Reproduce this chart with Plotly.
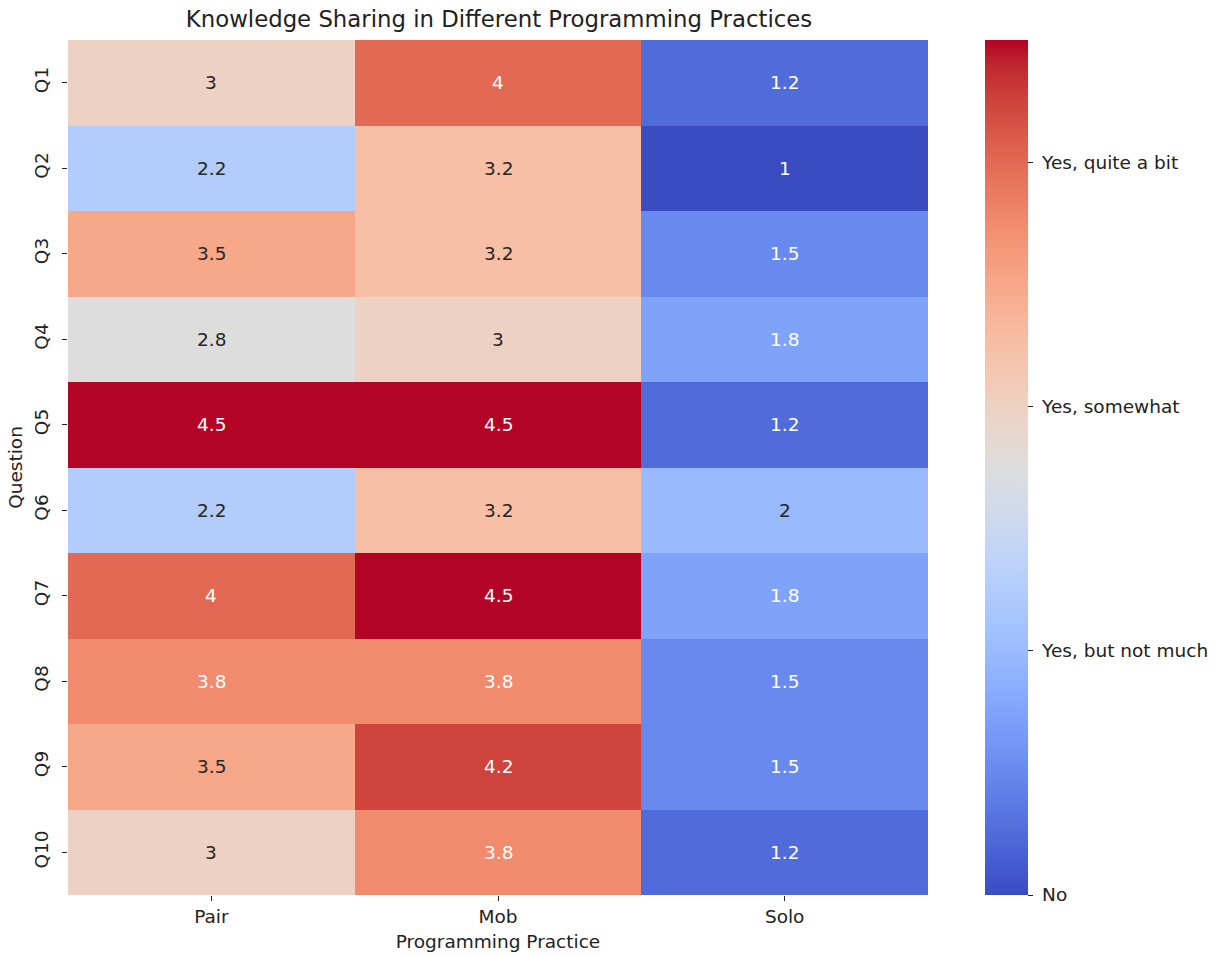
import numpy as np
import plotly.graph_objects as go

# Survey scores per question and programming practice
questions = ["Q1", "Q2", "Q3", "Q4", "Q5", "Q6", "Q7", "Q8", "Q9", "Q10"]
practices = ["Pair", "Mob", "Solo"]
pair_scores = [3.0, 2.25, 3.5, 2.75, 4.5, 2.25, 4.0, 3.75, 3.5, 3.0]
mob_scores = [4.0, 3.25, 3.25, 3.0, 4.5, 3.25, 4.5, 3.75, 4.25, 3.75]
solo_scores = [1.25, 1.0, 1.5, 1.75, 1.25, 2.0, 1.75, 1.5, 1.5, 1.25]

# Colour bar answer labels
scale_values = [1, 2, 3, 4]
scale_labels = ["No", "Yes, but not much", "Yes, somewhat", "Yes, quite a bit"]

vmin, vmax = 1.0, 4.5

# Diverging "coolwarm" palette, 33 control points
cw_red = [0.2298057, 0.26623388, 0.30386891, 0.342804478, 0.38301334, 0.424369608,
          0.46666708, 0.509635204, 0.552953156, 0.596262162, 0.639176211, 0.681291281,
          0.722193294, 0.761464949, 0.798691636, 0.833466556, 0.865395197, 0.897787179,
          0.924127593, 0.944468518, 0.958852946, 0.96732803, 0.969954137, 0.966811177,
          0.958003065, 0.943660866, 0.923944917, 0.89904617, 0.869186849, 0.834620542,
          0.795631745, 0.752534934, 0.705673158]
cw_green = [0.298717966, 0.353094838, 0.406535296, 0.458757618, 0.50941904, 0.558148092,
            0.604562568, 0.648280772, 0.688929332, 0.726149107, 0.759599947, 0.788964712,
            0.813952739, 0.834302879, 0.849786142, 0.860207984, 0.86541021, 0.848937047,
            0.827384882, 0.800927443, 0.769767752, 0.734132809, 0.694266682, 0.650421156,
            0.602842431, 0.551750968, 0.49730856, 0.439559467, 0.378313092, 0.312874446,
            0.24128379, 0.157246067, 0.01555616]
cw_blue = [0.753683153, 0.801466763, 0.84495867, 0.883725899, 0.917387822, 0.945619588,
           0.968154911, 0.98478814, 0.995375608, 0.999836203, 0.998151185, 0.990363227,
           0.976574709, 0.956945269, 0.931688648, 0.901068838, 0.865395561, 0.820880546,
           0.774508472, 0.726736146, 0.678007945, 0.628751763, 0.579375448, 0.530263762,
           0.481775914, 0.434243684, 0.387970225, 0.343229596, 0.300267182, 0.259301199,
           0.220525627, 0.184115123, 0.150232812]
stops = np.linspace(0, 1, len(cw_red))
colorscale = [
    [float(s), "rgb(%d,%d,%d)" % (round(r * 255), round(g * 255), round(b * 255))]
    for s, r, g, b in zip(stops, cw_red, cw_green, cw_blue)
]


def cell_rgb(v):
    t = (v - vmin) / (vmax - vmin)
    return (np.interp(t, stops, cw_red), np.interp(t, stops, cw_green), np.interp(t, stops, cw_blue))


def luminance(rgb):
    lin = [c / 12.92 if c <= 0.03928 else ((c + 0.055) / 1.055) ** 2.4 for c in rgb]
    return 0.2126 * lin[0] + 0.7152 * lin[1] + 0.0722 * lin[2]


LABEL_SIZE = 18.5
TITLE_SIZE = 22.8
INK = "#222222"

z = [[p, m, s] for p, m, s in zip(pair_scores, mob_scores, solo_scores)]

fig = go.Figure()
fig.add_trace(go.Heatmap(
    z=z,
    x=practices,
    y=questions,
    zmin=vmin,
    zmax=vmax,
    colorscale=colorscale,
    xgap=0,
    ygap=0,
    hoverongaps=False,
    colorbar=dict(
        tickmode="array",
        tickvals=scale_values,
        ticktext=["\u00a0" + t for t in scale_labels],
        ticks="outside",
        ticklen=5,
        tickwidth=1,
        tickcolor=INK,
        thickness=43,
        thicknessmode="pixels",
        len=1.0,
        lenmode="fraction",
        x=(985 - 68) / 860,
        xanchor="left",
        xpad=0,
        ypad=0,
        y=0.5,
        yanchor="middle",
        outlinewidth=0,
        tickfont=dict(family="DejaVu Sans", size=LABEL_SIZE, color=INK),
    ),
))

# Cell annotations, text colour chosen by background luminance
for i, q in enumerate(questions):
    for j, pr in enumerate(practices):
        v = z[i][j]
        col = "#262626" if luminance(cell_rgb(v)) > 0.408 else "#ffffff"
        fig.add_annotation(
            x=pr, y=q, text=format(v, ".2g"), showarrow=False,
            font=dict(family="DejaVu Sans", size=LABEL_SIZE, color=col),
        )

fig.update_layout(
    width=1228,
    height=956,
    margin=dict(l=68, r=300, t=40, b=61, autoexpand=False),
    paper_bgcolor="white",
    plot_bgcolor="white",
    title=dict(
        text="Knowledge Sharing in Different Programming Practices",
        x=499 / 1228, xanchor="center", xref="container",
        y=1 - 19 / 956, yanchor="middle",
        font=dict(family="DejaVu Sans", size=TITLE_SIZE, color=INK),
    ),
    font=dict(family="DejaVu Sans", size=LABEL_SIZE, color=INK),
)
fig.update_xaxes(
    title=dict(text="Programming Practice", font=dict(size=LABEL_SIZE), standoff=8),
    ticks="outside", ticklen=5, tickcolor=INK, showgrid=False, zeroline=False,
    showline=False, tickfont=dict(size=LABEL_SIZE), automargin=False,
)
fig.update_yaxes(
    title=dict(text="Question", font=dict(size=LABEL_SIZE), standoff=3),
    ticks="outside", ticklen=5, tickcolor=INK, showgrid=False, zeroline=False,
    showline=False, autorange="reversed", tickangle=-90, tickfont=dict(size=LABEL_SIZE),
    ticklabelstandoff=7, automargin=False,
)

fig.write_html("out.html")
